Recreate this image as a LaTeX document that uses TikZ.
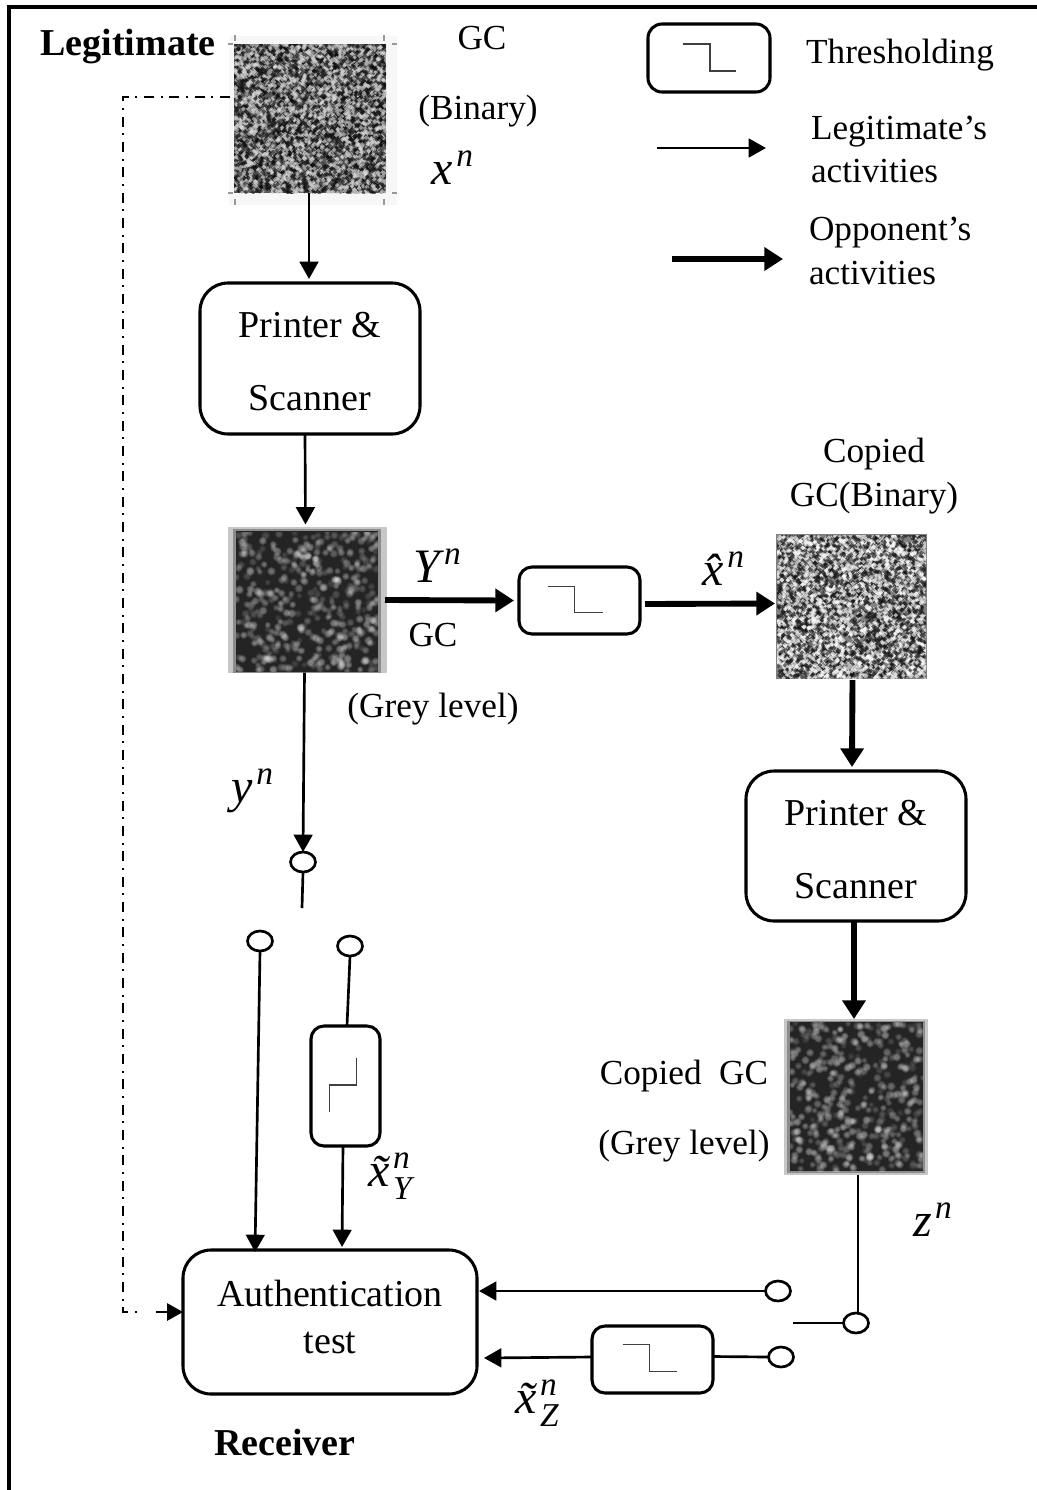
\documentclass[tikz,border=0pt]{standalone}
\usepackage{fontspec}
\setmainfont{Liberation Serif}
\usetikzlibrary{arrows.meta,shapes.geometric,calc}
\def\u{0.75pt}
% x0 y0 x1 y1 batches radius dark light
\newcommand{\speckle}[8]{%
  \begin{scope}
  \clip (#1,#2) rectangle (#3,#4);
  \foreach \b in {1,...,#5}{%
    \ifodd\b\relax\def\cc{#7}\else\def\cc{#8}\fi
    \fill[\cc,fill opacity=.6]
      \foreach \k [evaluate=\k as \px using {#1+rnd*(#3-#1)},
                   evaluate=\k as \py using {#2+rnd*(#4-#2)}] in {1,...,150}
      {(\px-#6,\py) -- (\px,\py-#6) -- (\px+#6,\py) -- (\px,\py+#6) -- cycle};
  }%
  \end{scope}}
\newcommand{\softspots}[5]{%
  \begin{scope}
  \clip (#1,#2) rectangle (#3,#4);
  \foreach \k in {1,...,#5}{%
    \pgfmathsetmacro\px{#1+rnd*(#3-#1)}%
    \pgfmathsetmacro\py{#2+rnd*(#4-#2)}%
    \pgfmathsetmacro\pr{1+rnd*1.5}%
    \pgfmathsetmacro\po{.04+rnd*.12}%
    \fill[white,fill opacity=\po] (\px,\py) circle[radius=\pr+2];
    \fill[white,fill opacity=\po] (\px,\py) circle[radius=\pr+1];
    \fill[white,fill opacity=\po] (\px,\py) circle[radius=\pr];
  }%
  \end{scope}}
% x^n style label: base, superscript, subscript
\newcommand{\mlabel}[3]{{\itshape #1\kern2.5pt\rlap{\raisebox{.38em}{\fontsize{25pt}{27pt}\selectfont #2}}\raisebox{-.26em}{\fontsize{25pt}{27pt}\selectfont #3\vphantom{n}}}}
\tikzset{
  txt/.style={inner sep=0pt,outer sep=0pt,yshift=-2.25pt,font=\fontsize{26.4pt}{31pt}\selectfont,align=left},
  bold/.style={inner sep=0pt,outer sep=0pt,yshift=-2.25pt,font=\fontsize{28.5pt}{35pt}\selectfont\bfseries},
  mth/.style={inner sep=0pt,outer sep=0pt,font=\fontsize{36pt}{40pt}\selectfont},
  rbox/.style={draw,line width=2.3pt,rounded corners=#1*\u,outer sep=0pt,inner sep=0pt,align=center},
  rbox/.default=28,
  imgbox/.style={inner sep=0pt,outer sep=0pt},
  term/.style={draw,ellipse,line width=2pt,minimum width=25*\u,minimum height=20*\u,inner sep=0pt,outer sep=0pt},
  stepline/.style={draw=black!75,line width=1.1pt},
  thin arrow/.style={line width=2pt,-{Triangle[length=13pt,width=14pt]}},
  thick arrow/.style={line width=4.4pt,-{Triangle[length=14pt,width=17pt]}},
  plain/.style={line width=2pt},
  hair/.style={line width=1pt},
  dashdot/.style={line width=1.5pt,dash pattern=on 7.5pt off 5pt on 1.5pt off 5pt},
  tick/.style={draw=black!40,line width=1.5pt},
}
\begin{document}
\begin{tikzpicture}[x=0.75pt,y=-0.75pt]
\useasboundingbox (0,0) rectangle (1037,1490);
\pgfmathsetseed{4711}
% frame
\coordinate (fa) at (1037,7);
\coordinate (fb) at (9,7);
\coordinate (fc) at (9,1490);
\draw[line width=2.3pt] (fa) -- (fb) -- (fc);

% noise pictures
\fill[black!3] (229,36) rectangle (397,205);
\foreach \a/\b/\c/\d in {235/35/235/41,384/35/384/41,235/199/235/205,384/199/384/205,228/44/233/44,392/44/397/44,228/193/233/193,392/193/397/193}{\draw[tick] (\a,\b) -- (\c,\d);}
\fill[black!65] (234,44) rectangle (386,193);
\speckle{234}{44}{386}{193}{30}{2.3}{black!95}{white!85!black}
\fill[black!22] (228,527) rectangle (387,673);
\fill[black!45] (233,529) rectangle (381,673);
\fill[black!86] (236,531) rectangle (378,672);
\softspots{236}{532}{378}{671}{430}
\fill[black!50] (776,534) rectangle (927,679);
\speckle{777}{535}{926}{678}{30}{2.3}{black!92}{white}
\fill[black!22] (784,1019) rectangle (928,1175);
\fill[black!45] (787,1021) rectangle (925,1173);
\fill[black!86] (790,1022) rectangle (923,1171);
\softspots{790}{1022}{923}{1171}{430}

\node[imgbox,minimum width=152*\u,minimum height=149*\u] (img1) at (310,118.5) {};
\node[imgbox,minimum width=159*\u,minimum height=145*\u] (img2) at (307.5,600) {};
\node[imgbox,minimum width=151*\u,minimum height=145*\u] (img3) at (851.5,606.5) {};
\node[imgbox,minimum width=144*\u,minimum height=156*\u] (img4) at (856,1097) {};

% boxes
\node[rbox,minimum width=220*\u,minimum height=151*\u,font=\fontsize{28.5pt}{54.75pt}\selectfont] (ps1) at (310,358.5) {\rule{0pt}{24pt}Printer \&\\Scanner};
\node[rbox,minimum width=220*\u,minimum height=150*\u,font=\fontsize{28.5pt}{54.75pt}\selectfont] (ps2) at (856,846) {\rule{0pt}{24pt}Printer \&\\Scanner};
\node[rbox,minimum width=294*\u,minimum height=144*\u,font=\fontsize{28.5pt}{35pt}\selectfont] (auth) at (330,1322) {Authentication\\test\rule[-8pt]{0pt}{8pt}};
\node[rbox=14,minimum width=122*\u,minimum height=68*\u] (thL) at (709,58) {};
\node[rbox=13,minimum width=121*\u,minimum height=67*\u] (thA) at (579.5,600.5) {};
\node[rbox=13,minimum width=121*\u,minimum height=67*\u] (thB) at (652.5,1359.5) {};
\node[rbox=13,minimum width=69*\u,minimum height=120*\u] (thV) at (345.5,1086) {};

% step symbols
\draw[stepline] ($(thL)+(-26,-14)$) -- ++(27,0) -- ++(0,27) -- ++(26,0);
\draw[stepline] ($(thA)+(-32,-14)$) -- ++(27,0) -- ++(0,26) -- ++(28,0);
\draw[stepline] ($(thB)+(-30,-15)$) -- ++(27,0) -- ++(0,27) -- ++(27,0);
\draw[stepline] ($(thV)+(-16,26)$) -- ++(0,-27) -- ++(27,0) -- ++(0,-27);

% terminals
\node[term] (t1) at (303,862) {};
\node[term] (t2) at (260,941) {};
\node[term] (t3) at (350,946) {};
\node[term] (t4) at (778,1291) {};
\node[term] (t5) at (856,1323) {};
\node[term] (t6) at (781,1357) {};
\coordinate (stub1) at (302,908);
\coordinate (stub2) at (793,1323);

% legend arrows
\coordinate (la) at (657,148); \coordinate (lb) at (766,148);
\coordinate (oa) at (672,259); \coordinate (ob) at (783,259);
\draw[thin arrow] (la) -- (lb);
\draw[thick arrow] (oa) -- (ob);

% connectors
\draw[thin arrow] ($(img1.south)+(-1,0)$) -- ($(ps1.north)+(-1,-4)$);
\draw[thin arrow] ($(ps1.south)+(-5,0)$) -- ($(img2.north)+(-2,-3)$);
\draw[thick arrow] ($(img2.east)+(-2,0)$) -- ($(thA.west)+(-5,0)$);
\draw[thick arrow] ($(thA.east)+(5,3.5)$) -- ($(img3.west)+(-1,-3)$);
\draw[thick arrow] ($(img3.south)+(1,1)$) -- ($(ps2.north)+(-4,-4)$);
\draw[thick arrow] ($(ps2.south)+(-2,1)$) -- ($(img4.north)+(-2,0)$);
\draw[thin arrow] ($(img2.south)+(-3,0)$) -- (t1.north);
\draw[plain] (t1.south) -- (stub1);
\draw[thin arrow] (t2.south) -- ($(auth.north)+(-75,2)$);
\draw[plain] (t3.south) -- ($(thV.north)+(1.5,0)$);
\draw[thin arrow] ($(thV.south)+(-2.5,0)$) -- ($(auth.north)+(12,-3)$);
\draw[thin arrow] (t4.west) -- ($(auth.east)+(2,-31)$);
\draw[plain] (t6.west) -- ($(thB.east)+(0,-3)$);
\draw[thin arrow] ($(thB.west)+(0,-2.5)$) -- ($(auth.east)+(7,36)$);
\draw[hair] ($(img4.south)+(2,0)$) -- ($(t5.north)+(2,0)$);
\draw[hair] (t5.west) -- (stub2);
\draw[dashdot] ($(img1.west)+(-4,-21.5)$) -- ++(-107,0) -- ++(0,1215) -- ++(20,0);
\draw[line width=1.5pt,-{Triangle[length=12pt,width=13pt]}] ($(auth.west)+(-27,-10)$) -- (auth.west|-0,1312);

% labels
\node[bold] (lbLeg) at (128,44) {Legitimate};
\node[bold] (lbRec) at (285,1439) {Receiver};
\node[txt] (lbGC1) at (482,35) {GC};
\node[txt] (lbBin) at (478,108) {(Binary)};
\node[mth] (lbx) at (444,174) {\mlabel{x}{n}{}};
\node[txt] (lbTh) at (900,52) {Thresholding};
\node[txt,anchor=west] (lbL1) at (811,129) {Legitimate’s};
\node[txt,anchor=west] (lbL2) at (811,168) {activities};
\node[txt,anchor=west] (lbO1) at (809,230) {Opponent’s};
\node[txt,anchor=west] (lbO2) at (809,270) {activities};
\node[mth] (lbY) at (429,572) {\mlabel{Y}{n}{}};
\node[txt] (lbGC2) at (433,632) {GC};
\node[txt] (lbGr1) at (433,706) {(Grey level)};
\node[mth] (lby) at (244,792) {\mlabel{y}{n}{}};
\node[mth] (lbh) at (715,575) {\mlabel{x̂}{n}{}};
\node[txt] (lbC1) at (874,451) {Copied};
\node[txt] (lbC2) at (874,495) {GC(Binary)};
\node[txt] (lbC3) at (684,1073) {Copied\ \ GC};
\node[txt] (lbGr2) at (684,1143) {(Grey level)};
\node[mth] (lbz) at (924,1226) {\mlabel{z}{n}{}};
\node[mth] (lbtY) at (390,1176) {\mlabel{x̃}{n}{Y}};
\node[mth] (lbtZ) at (537,1403) {\mlabel{x̃}{n}{Z}};
\end{tikzpicture}
\end{document}
